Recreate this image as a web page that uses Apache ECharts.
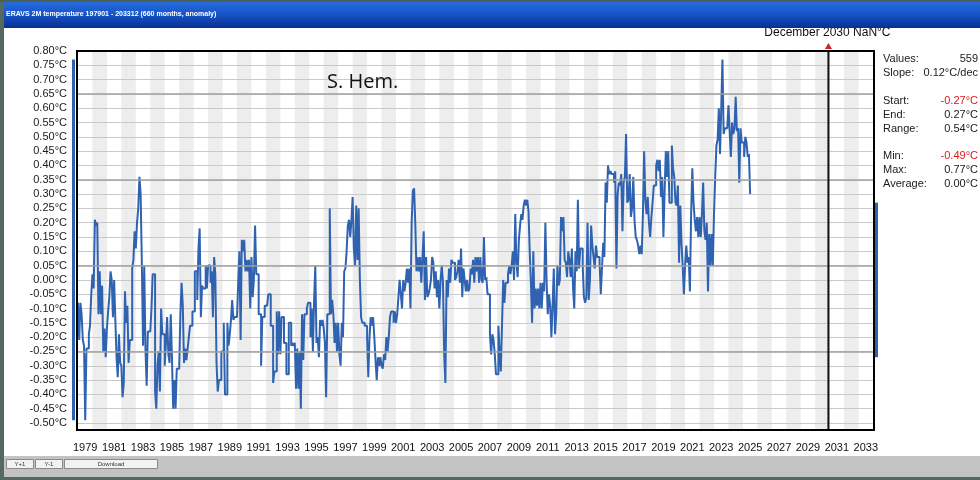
<!DOCTYPE html>
<html><head><meta charset="utf-8">
<script src="https://cdn.jsdelivr.net/npm/echarts@6/dist/echarts.min.js"></script>
<style>html,body{margin:0;padding:0;background:#fff;width:980px;height:480px;overflow:hidden}#c{width:980px;height:480px}</style>
</head><body><div id="c"></div>
<script>
// ---------- data ----------
const titleText = 'ERAVS 2M temperature 197901 - 203312 (660 months, anomaly)';
const regionLabel = 'S. Hem.';
const startYear = 1979;
const totalMonths = 660;
const yearLabels = [1979,1981,1983,1985,1987,1989,1991,1993,1995,1997,1999,2001,2003,2005,2007,2009,2011,2013,2015,2017,2019,2021,2023,2025,2027,2029,2031,2033];
const yMin = -0.5, yMax = 0.8, yStep = 0.05;
const darkGridValues = [-0.25, 0.05, 0.35, 0.65];
const cursorMonth = 623; // December 2030
const cursorLabel = 'December 2030 NaN°C';
const trendStart = -0.27, trendEnd = 0.27;
const statLabels = ['Values:', 'Slope:', 'Start:', 'End:', 'Range:', 'Min:', 'Max:', 'Average:'];
const statValues = ['559', '0.12°C/dec', '-0.27°C', '0.27°C', '0.54°C', '-0.49°C', '0.77°C', '0.00°C'];
const statRed = [false, false, true, false, false, true, false, false];
const statRows = [0, 1, 3, 4, 5, 7, 8, 9];
const buttonLabels = ['Y+1', 'Y-1', 'Download'];

const anom1979_1988 = [
 -0.08,-0.21,-0.08,-0.12,-0.21,-0.23,-0.49,-0.24,-0.24,-0.19,-0.16,-0.05,
  0.02,-0.03, 0.21, 0.19, 0.20,-0.12, 0.03,-0.12,-0.02,-0.25,-0.17,-0.27,
 -0.17,-0.11,-0.06, 0.03, 0.00,-0.13, 0.00,-0.14,-0.27,-0.34,-0.19,-0.29,
 -0.30,-0.41,-0.36,-0.04,-0.15,-0.09,-0.29,-0.21,-0.21, 0.04, 0.07, 0.17,
  0.11, 0.20, 0.25, 0.36, 0.30, 0.06,-0.23, 0.05,-0.24,-0.37,-0.18,-0.18,
 -0.18,-0.10, 0.02, 0.02,-0.39,-0.45,-0.30,-0.25,-0.39,-0.10,-0.19,-0.19,
 -0.30,-0.22,-0.13,-0.26,-0.29,-0.12,-0.27,-0.45,-0.35,-0.45,-0.31,-0.31,
 -0.31,-0.12,-0.01,-0.09,-0.29,-0.24,-0.28,-0.24,-0.20,-0.16,-0.16,-0.11,
 -0.11, 0.03, 0.03,-0.07, 0.11, 0.18,-0.13,-0.02,-0.03,-0.03, 0.05,-0.03,
  0.05, 0.05,-0.01, 0.03,-0.13, 0.08, 0.02,-0.29,-0.39,-0.35,-0.35,-0.25
];
const anom1989_1998 = [
 -0.25,-0.15,-0.40,-0.40,-0.15,-0.23,-0.19,-0.14,-0.07,-0.14,-0.13,-0.13,
 -0.13,-0.01, 0.10,-0.21, 0.14, 0.10, 0.14, 0.03, 0.07, 0.03, 0.07,-0.10,
  0.08,-0.06, 0.00, 0.19, 0.02, 0.02,-0.12,-0.12,-0.30,-0.13,-0.13,-0.09,
 -0.09,-0.09,-0.05,-0.05,-0.16,-0.16,-0.36,-0.32,-0.32,-0.11,-0.26,-0.11,
 -0.26,-0.13,-0.13,-0.22,-0.22,-0.33,-0.33,-0.15,-0.15,-0.23,-0.22,-0.23,
 -0.22,-0.38,-0.24,-0.38,-0.25,-0.45,-0.12,-0.28,-0.12,-0.12,-0.10,-0.08,
 -0.08,-0.20,-0.10,-0.25,-0.07, 0.05,-0.22,-0.20,-0.27,-0.14,-0.16,-0.14,
 -0.17,-0.22,-0.41,-0.12,-0.12, 0.25,-0.12,-0.07,-0.12,-0.22,-0.15,-0.25,
 -0.15,-0.26,-0.30,-0.15,-0.20, 0.03, 0.04, 0.10, 0.19, 0.21, 0.15, 0.21,
  0.29, 0.11, 0.05, 0.26, 0.07, 0.25, 0.00,-0.13,-0.15,-0.15,-0.16,-0.16
];
const anom1999_2008 = [
 -0.20,-0.34,-0.20,-0.13,-0.16,-0.13,-0.20,-0.28,-0.35,-0.27,-0.30,-0.27,
 -0.30,-0.31,-0.26,-0.28,-0.20,-0.25,-0.20,-0.13,-0.11,-0.11,-0.15,-0.11,
 -0.15,-0.12,-0.06, 0.00,-0.05,-0.10, 0.00,-0.04,-0.01, 0.04,-0.01, 0.04,
 -0.10, 0.20, 0.31, 0.32, 0.20, 0.03, 0.08, 0.03, 0.08,-0.01, 0.08, 0.17,
 -0.07, 0.08,-0.06,-0.05,-0.03, 0.00, 0.08, 0.06,-0.03, 0.03,-0.06, 0.00,
 -0.10, 0.00, 0.05,-0.01,-0.26,-0.36, 0.00,-0.06, 0.04,-0.01, 0.07, 0.06,
  0.06, 0.00, 0.01, 0.03, 0.07,-0.01, 0.11,-0.06, 0.04, 0.00,-0.04, 0.00,
 -0.04,-0.03, 0.04, 0.02, 0.07,-0.01, 0.08, 0.03, 0.08,-0.01, 0.08, 0.00,
 -0.01, 0.15, 0.00, 0.01,-0.05,-0.05,-0.19,-0.26,-0.19,-0.21,-0.26,-0.33,
 -0.33,-0.16,-0.25,-0.32,-0.16, 0.00,-0.08,-0.01,-0.01, 0.02, 0.05, 0.02
];
const anom2009_2018 = [
  0.05, 0.10, 0.00, 0.23, 0.06, 0.01, 0.14, 0.19, 0.23, 0.21, 0.26, 0.28,
  0.26, 0.28, 0.24, 0.10,-0.01,-0.15, 0.10,-0.10,-0.03,-0.09,-0.03,-0.10,
 -0.01,-0.10,-0.01,-0.04, 0.20, 0.00,-0.12,-0.05,-0.09,-0.20,-0.09, 0.04,
 -0.19,-0.12, 0.05,-0.02, 0.00, 0.22, 0.17, 0.22, 0.07, 0.06, 0.01, 0.10,
  0.07, 0.01, 0.11,-0.03,-0.10, 0.10, 0.03, 0.28, 0.04, 0.11, 0.11, 0.05,
 -0.06,-0.08,-0.06, 0.20,-0.07, 0.00, 0.19, 0.12, 0.08, 0.04, 0.12, 0.08,
  0.08, 0.06,-0.05, 0.04, 0.13, 0.08, 0.34, 0.27, 0.40, 0.37, 0.38, 0.37,
  0.37, 0.34, 0.38, 0.04, 0.30, 0.34, 0.33, 0.37, 0.17, 0.34, 0.36, 0.51,
  0.27, 0.28, 0.37, 0.22, 0.25, 0.36, 0.21, 0.15, 0.14, 0.12, 0.09, 0.12,
  0.09, 0.23, 0.45, 0.28, 0.23, 0.29, 0.20, 0.15, 0.22, 0.27, 0.33, 0.33
];
const anom2019_2025 = [
  0.40, 0.42, 0.38, 0.42, 0.29, 0.36, 0.15, 0.31, 0.45, 0.36, 0.45, 0.27,
  0.27, 0.47, 0.39, 0.36, 0.27, 0.26, 0.33, 0.06, 0.26, 0.13, 0.05,-0.05,
  0.05, 0.12, 0.06, 0.08,-0.04, 0.23, 0.39, 0.27, 0.21, 0.17, 0.22, 0.15,
  0.22, 0.15, 0.23, 0.34, 0.17, 0.14, 0.20,-0.04, 0.16, 0.05, 0.16, 0.05,
  0.23, 0.36, 0.47, 0.49, 0.60, 0.44, 0.60, 0.77, 0.51, 0.53, 0.53, 0.53,
  0.61, 0.52, 0.43, 0.55, 0.51, 0.53, 0.64, 0.52, 0.53, 0.34, 0.53, 0.48,
  0.48, 0.43, 0.50, 0.48, 0.43, 0.44, 0.30
];

// ---------- chart ----------
const anomalies = [].concat(anom1979_1988, anom1989_1998, anom1999_2008, anom2009_2018, anom2019_2025);
const seriesData = anomalies.map((v, i) => [i, v]);
const labelMonths = yearLabels.map(y => (y - startYear) * 12 + 6);
const dataMin = Math.min.apply(null, anomalies);
const dataMax = Math.max.apply(null, anomalies);

const BLUE = '#2f63b1';
const GL = 78, GT = 51, GW = 795, GH = 372, GH_FULL = 379;
const chart = echarts.init(document.getElementById('c'), null, {renderer: 'canvas'});

chart.setOption({
  animation: false,
  backgroundColor: '#ffffff',
  grid: [
    {left: GL, top: GT, width: GW, height: GH_FULL},
    {left: GL, top: GT, width: GW, height: GH}
  ],
  xAxis: [
    {type: 'value', gridIndex: 0, min: 0, max: totalMonths, interval: 12, z: 0,
     axisLine: {show: false}, axisTick: {show: false}, axisLabel: {show: false},
     splitLine: {show: false},
     splitArea: {show: true, areaStyle: {color: ['rgba(255,255,255,0)', '#ededed']}}},
    {type: 'value', gridIndex: 1, min: 0, max: totalMonths, z: 2,
     axisLine: {show: false}, axisTick: {show: false}, splitLine: {show: false},
     axisLabel: {customValues: labelMonths, margin: 19, fontSize: 11,
       fontFamily: 'Liberation Sans Narrow, Liberation Sans, sans-serif', color: '#111',
       formatter: v => String(startYear + Math.floor(v / 12))}}
  ],
  yAxis: [
    {type: 'value', gridIndex: 0, min: 0, max: 1, show: false, splitLine: {show: false}},
    {type: 'value', gridIndex: 1, min: yMin, max: yMax, interval: yStep, z: 1,
     axisLine: {show: false}, axisTick: {show: false},
     axisLabel: {margin: 11, fontSize: 11, fontFamily: 'Liberation Sans, Arial, sans-serif', color: '#1a1a1a',
       formatter: v => (Math.abs(v) < 1e-9 ? 0 : v).toFixed(2) + '°C'},
     splitLine: {show: true, lineStyle: {color: '#c9c9c9', width: 1}}}
  ],
  series: [
    {type: 'line', xAxisIndex: 1, yAxisIndex: 1, data: [], z: 1, silent: true,
     markLine: {silent: true, symbol: ['none', 'none'], label: {show: false},
       lineStyle: {color: '#a0a0a0', width: 1.5, type: 'solid'},
       data: darkGridValues.map(v => ({yAxis: v}))}},
    {type: 'line', xAxisIndex: 1, yAxisIndex: 1, data: seriesData, step: 'end', z: 3,
     showSymbol: false, symbol: 'none', lineStyle: {color: BLUE, width: 2}, silent: true}
  ]
});

const yPix = v => chart.convertToPixel({yAxisIndex: 1}, v);
const xPix = v => chart.convertToPixel({xAxisIndex: 1}, v);
const cx = xPix(cursorMonth);
const frameBottom = GT + GH_FULL;
const g = [];
// window chrome
g.push({type: 'rect', shape: {x: 0, y: 0, width: 980, height: 28}, z: 100,
  style: {fill: new echarts.graphic.LinearGradient(0, 0, 0, 1, [
    {offset: 0, color: '#2a6fe0'}, {offset: 0.5, color: '#1655c8'}, {offset: 1, color: '#0a2f92'}])}});
g.push({type: 'rect', shape: {x: 0, y: 0, width: 980, height: 2}, z: 101, style: {fill: '#4a5f56'}});
g.push({type: 'text', x: 6, y: 14, z: 102, style: {text: titleText, fill: '#ffffff',
  font: 'bold 7px Liberation Sans, Arial, sans-serif', textVerticalAlign: 'middle'}});
g.push({type: 'rect', shape: {x: 0, y: 0, width: 4, height: 480}, z: 100, style: {fill: '#56695e'}});
g.push({type: 'rect', shape: {x: 4, y: 456, width: 976, height: 22}, z: 100, style: {fill: '#c3c3c3'}});
g.push({type: 'rect', shape: {x: 0, y: 477, width: 980, height: 3}, z: 100, style: {fill: '#56695e'}});
const btns = [[6, 27], [35, 27], [64, 93]];
btns.forEach((b, i) => {
  g.push({type: 'rect', shape: {x: b[0] + 0.5, y: 459.5, width: b[1], height: 9}, z: 101,
    style: {fill: '#f2f2f2', stroke: '#8a8a8a', lineWidth: 1}});
  g.push({type: 'text', x: b[0] + b[1] / 2 + 0.5, y: 464, z: 102, style: {text: buttonLabels[i], fill: '#333',
    font: '6px Liberation Sans, Arial, sans-serif', textAlign: 'center', textVerticalAlign: 'middle'}});
});
// frame
g.push({type: 'rect', shape: {x: GL - 1, y: GT, width: GW + 2, height: GH_FULL}, z: 50,
  style: {fill: 'none', stroke: '#000', lineWidth: 2}});
// range bars
g.push({type: 'rect', shape: {x: GL - 6, y: yPix(dataMax), width: 3, height: yPix(dataMin) - yPix(dataMax)}, z: 40, style: {fill: BLUE}});
g.push({type: 'rect', shape: {x: GL + GW + 2, y: yPix(trendEnd), width: 3, height: yPix(trendStart) - yPix(trendEnd)}, z: 40, style: {fill: BLUE}});
// cursor
g.push({type: 'line', shape: {x1: cx, y1: GT, x2: cx, y2: frameBottom}, z: 45, style: {stroke: '#111', lineWidth: 2}});
g.push({type: 'polygon', shape: {points: [[cx, 43], [cx - 3.5, 49], [cx + 3.5, 49]]}, z: 46, style: {fill: '#d42020'}});
g.push({type: 'text', x: cx - 1, y: 33, z: 46, style: {text: cursorLabel, fill: '#111',
  font: '12px Liberation Sans, Arial, sans-serif', textAlign: 'center', textVerticalAlign: 'middle'}});
// region label
g.push({type: 'text', x: 327, y: 82, z: 46, style: {text: regionLabel, fill: '#111',
  font: '20px Open Sans, Noto Sans, sans-serif', textVerticalAlign: 'middle'}});
// stats panel
statLabels.forEach((lab, i) => {
  const y = 59 + statRows[i] * 13.9;
  g.push({type: 'text', x: 883, y: y, z: 46, style: {text: lab, fill: '#1a1a1a',
    font: '11px Liberation Sans, Arial, sans-serif', textVerticalAlign: 'middle'}});
  g.push({type: 'text', x: 978, y: y, z: 46, style: {text: statValues[i], fill: statRed[i] ? '#e01818' : '#1a1a1a',
    font: '11px Liberation Sans, Arial, sans-serif', textAlign: 'right', textVerticalAlign: 'middle'}});
});
chart.setOption({graphic: {elements: g}});
</script></body></html>
